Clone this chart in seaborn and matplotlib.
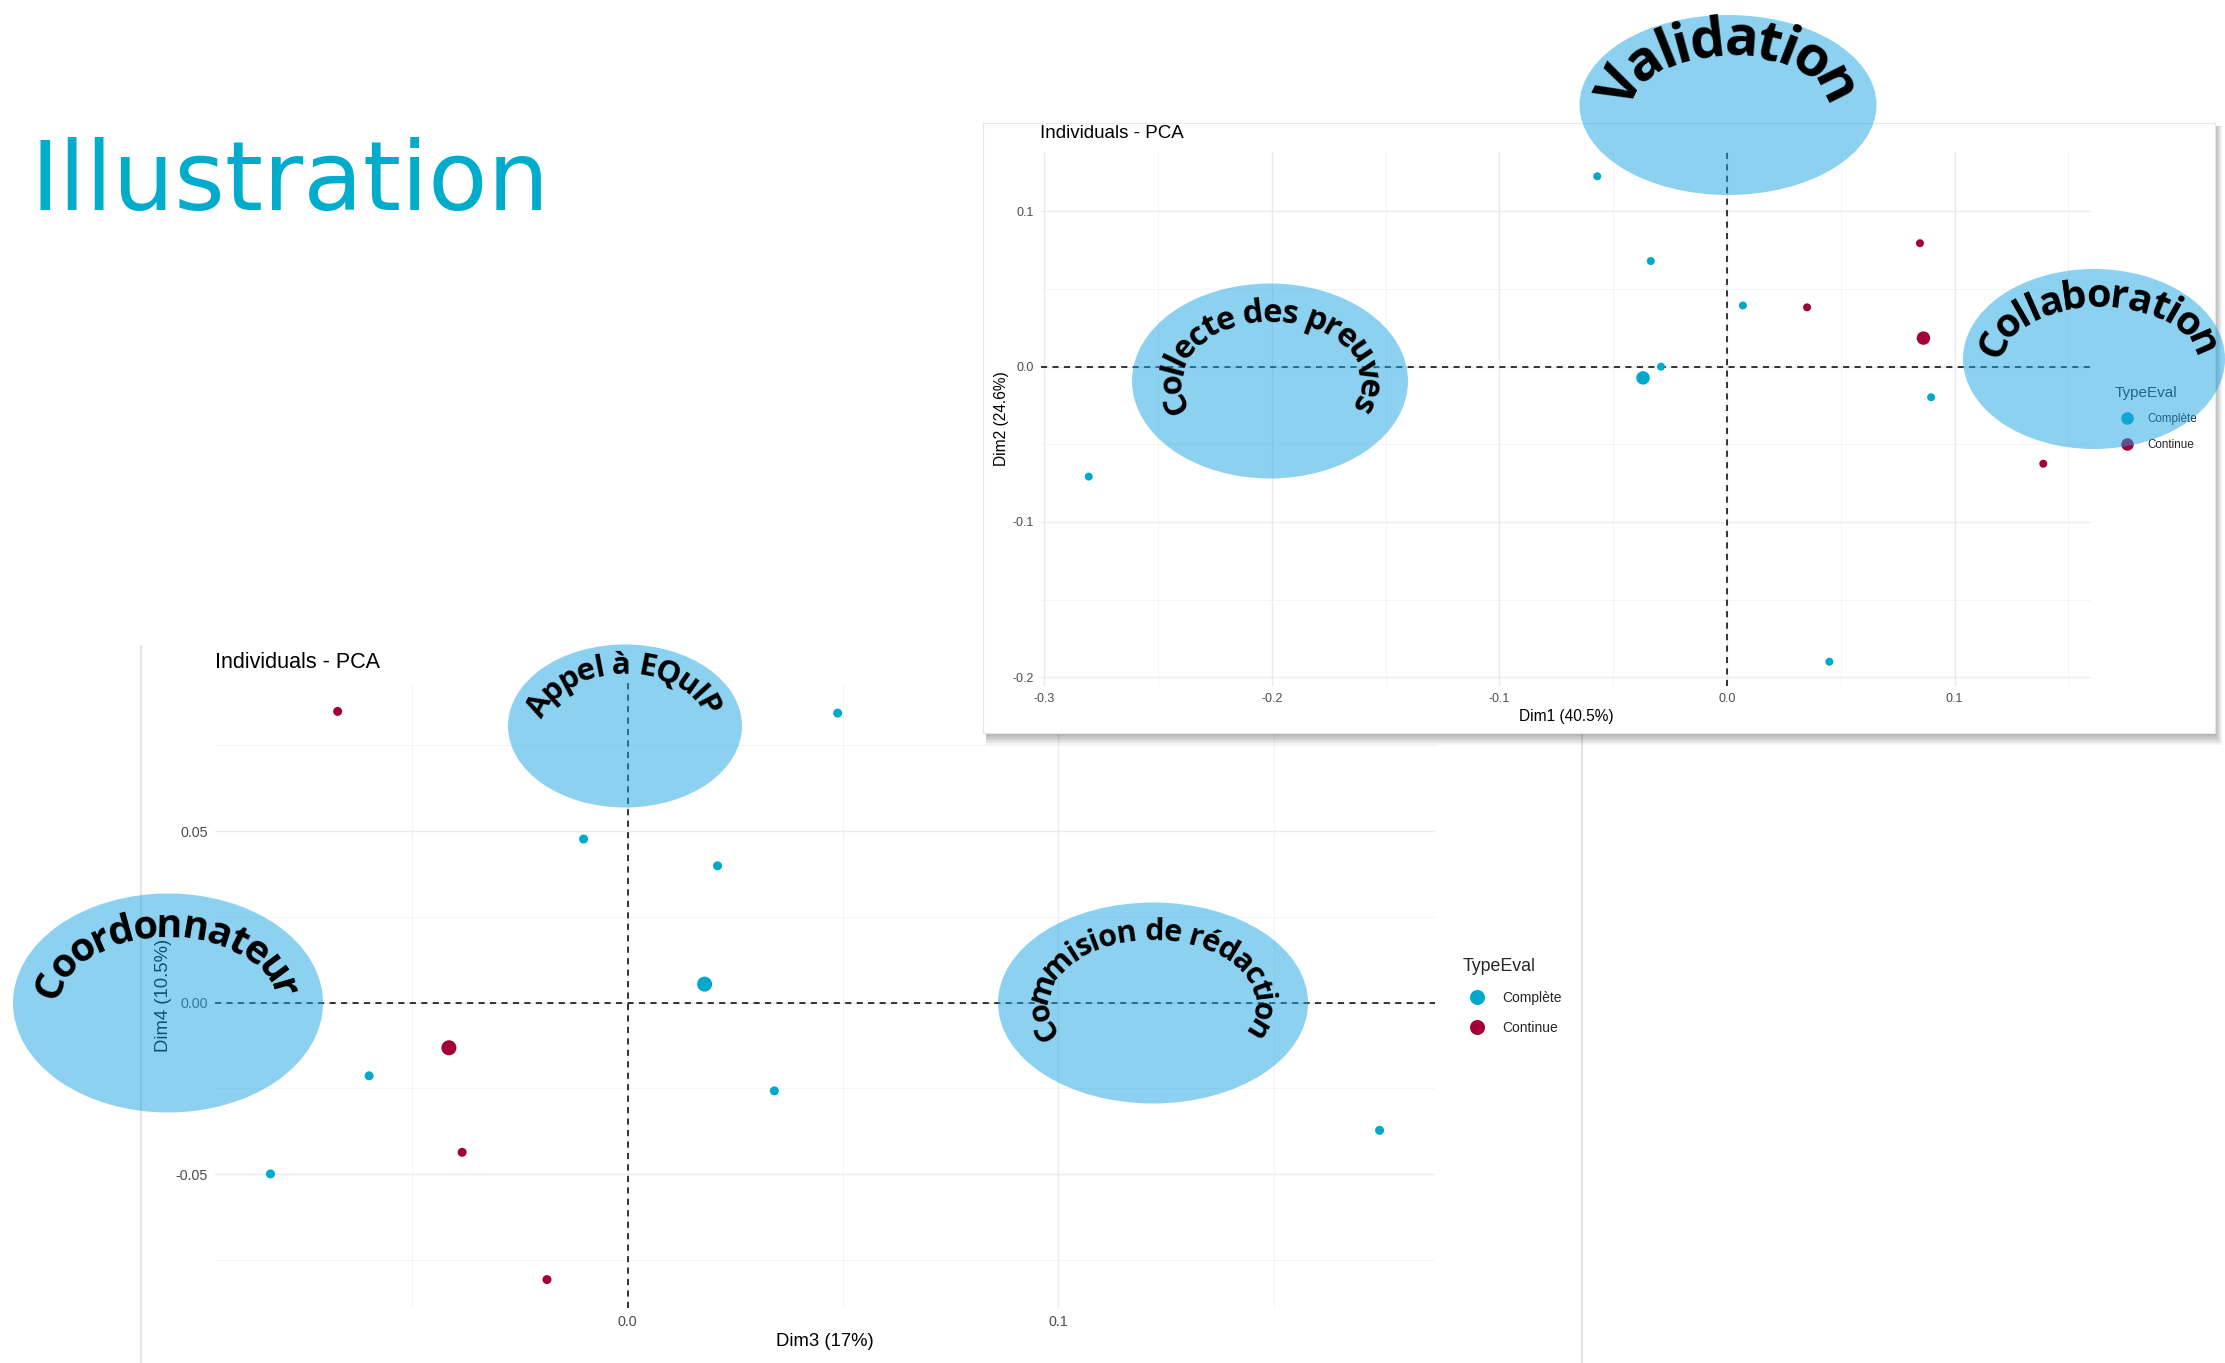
import numpy as np
import pandas as pd
import matplotlib
matplotlib.use("Agg")
import matplotlib.pyplot as plt
import seaborn as sns
from matplotlib.patches import Ellipse, Rectangle
from matplotlib.lines import Line2D
from matplotlib.ticker import FixedLocator
from matplotlib.font_manager import FontProperties, findfont, get_font

# individuals on Dim1 / Dim2 (upper plot)
dim12_type = ["Complète", "Complète", "Complète", "Complète", "Complète", "Complète", "Complète",
              "Continue", "Continue", "Continue"]
dim1 = [-0.057, -0.0335, 0.007, -0.029, -0.2805, 0.0897, 0.045, 0.0848, 0.0352, 0.139]
dim2 = [0.1226, 0.068, 0.0394, 0.0, -0.0708, -0.0197, -0.190, 0.0795, 0.0382, -0.0625]

# individuals on Dim3 / Dim4 (lower plot)
dim34_type = ["Complète", "Complète", "Complète", "Complète", "Complète", "Complète", "Complète",
              "Continue", "Continue", "Continue"]
dim3 = [0.0488, -0.0102, 0.0209, -0.060, 0.0341, 0.1746, -0.0829, -0.0673, -0.0384, -0.0187]
dim4 = [0.0844, 0.0477, 0.0399, -0.0213, -0.0257, -0.0372, -0.0499, 0.0849, -0.0436, -0.0807]

groups = ["Complète", "Continue"]
palette = {"Complète": "#00A9CB", "Continue": "#A3003A"}

# bubbles drawn over the slide: label, ellipse centre/size, text centre, text baseline radii, font size
bubbles = [
    ("Validation", (1728, 105), (297, 180), (1728, 105), (95, 50), 40),
    ("Collecte des preuves", (1270, 381), (276, 195), (1270, 381), (89, 59), 23.5),
    ("Collaboration", (2094, 359), (262, 180), (2098, 359), (96, 52), 28.5),
    ("Appel à EQuIP", (625, 726), (234, 163), (623, 726), (80, 52), 22.5),
    ("Coordonnateur", (168, 1003), (310, 219), (166, 1003), (107, 66), 28.5),
    ("Commision de rédaction", (1153, 1003), (310, 201), (1151, 1003), (103, 63), 22),
]

W, H, DPI = 2225, 1363, 100

sns.set_style("white")
plt.rcParams["font.family"] = ["Liberation Sans", "DejaVu Sans"]
plt.rcParams["axes.unicode_minus"] = False

fig = plt.figure(figsize=(W / DPI, H / DPI), dpi=DPI)


def fx(x):
    return x / W


def fy(y):
    return 1 - y / H


def axes_px(left, top, right, bottom, z):
    return fig.add_axes([fx(left), fy(bottom), (right - left) / W, (bottom - top) / H], zorder=z)


def expand(v):
    lo, hi = min(v), max(v)
    pad = (hi - lo) * 0.05
    return lo - pad, hi + pad


def pca_panel(ax, x, y, types, xticks, yticks, xminor, yminor, xfmt, yfmt,
              xlabel, ylabel, title, title_xy, sizes, legend_xy, legend_sizes):
    tick_size, label_size, title_size, small_s, big_s = sizes
    df = pd.DataFrame({"x": x, "y": y, "TypeEval": types})
    means = df.groupby("TypeEval", as_index=False)[["x", "y"]].mean()

    ax.set_facecolor("none")
    for sp in ax.spines.values():
        sp.set_visible(False)

    ax.axhline(0, color="black", lw=1.1, ls=(0, (4, 3.5)), zorder=1.5)
    ax.axvline(0, color="black", lw=1.1, ls=(0, (4, 3.5)), zorder=1.5)

    sns.scatterplot(data=df, x="x", y="y", hue="TypeEval", hue_order=groups, palette=palette,
                    s=small_s, linewidth=0, legend=False, ax=ax, zorder=3)
    sns.scatterplot(data=means, x="x", y="y", hue="TypeEval", hue_order=groups, palette=palette,
                    s=big_s, linewidth=0, legend=False, ax=ax, zorder=3)

    ax.set_xlim(expand(x))
    ax.set_ylim(expand(y))
    ax.set_xticks(xticks)
    ax.set_xticklabels([xfmt.format(v) for v in xticks])
    ax.set_yticks(yticks)
    ax.set_yticklabels([yfmt.format(v) for v in yticks])
    ax.xaxis.set_minor_locator(FixedLocator(xminor))
    ax.yaxis.set_minor_locator(FixedLocator(yminor))
    ax.set_axisbelow(True)
    ax.grid(True, which="major", color="#EBEBEB", lw=1.0)
    ax.grid(True, which="minor", color="#F3F3F3", lw=0.6)
    ax.tick_params(which="major", length=3, width=0.8, color="#333333",
                   labelcolor="#4D4D4D", labelsize=tick_size, pad=2)
    ax.tick_params(which="minor", length=0)
    ax.set_xlabel(xlabel, fontsize=label_size, color="black", labelpad=3)
    ax.set_ylabel(ylabel, fontsize=label_size, color="black", labelpad=3)

    ax.text(fx(title_xy[0]), fy(title_xy[1]), title, transform=fig.transFigure,
            fontsize=title_size, ha="left", va="center", color="black")

    ms, lab_size, leg_title_size, spacing, textpad = legend_sizes
    handles = [Line2D([], [], ls="", marker="o", ms=ms, markeredgewidth=0, color=palette[g]) for g in groups]
    ax.legend(handles, groups, title="TypeEval", loc="upper left",
              bbox_to_anchor=(fx(legend_xy[0]), fy(legend_xy[1])), bbox_transform=fig.transFigure,
              frameon=False, borderpad=0, borderaxespad=0, fontsize=lab_size,
              title_fontsize=leg_title_size, handlelength=2.0, handletextpad=textpad,
              labelspacing=spacing, alignment="left")


# lower card (behind)
for xl in (141, 1582):
    fig.add_artist(Line2D([fx(xl), fx(xl)], [fy(646), 0], transform=fig.transFigure,
                          color="#E4E4E4", lw=1.5, zorder=0.5))

ax_low = axes_px(215, 683, 1435, 1308, 1)
pca_panel(ax_low, dim3, dim4, dim34_type,
          [0.0, 0.1], [-0.05, 0.0, 0.05], [-0.05, 0.05, 0.15], [-0.075, -0.025, 0.025, 0.075],
          "{:.1f}", "{:.2f}", "Dim3 (17%)", "Dim4 (10.5%)", "Individuals - PCA", (215, 663),
          (10.3, 13.3, 15.5, 42, 117), (1463, 958), (10.8, 10, 12.8, 1.15, 0.8))

# upper card with its drop shadow
for k in range(8):
    fig.add_artist(Rectangle((fx(986), fy(734 + k * 1.5)), (2215 + k - 986) / W, (734 + k * 1.5 - 126) / H,
                             transform=fig.transFigure, facecolor="black", alpha=0.045,
                             edgecolor="none", zorder=1.9))
fig.add_artist(Rectangle((fx(983), fy(733)), (2215 - 983) / W, (733 - 123) / H, transform=fig.transFigure,
                         facecolor="white", edgecolor="#E6E6E6", lw=0.8, zorder=2))

ax_up = axes_px(1041, 152, 2091, 686, 3)
pca_panel(ax_up, dim1, dim2, dim12_type,
          [-0.3, -0.2, -0.1, 0.0, 0.1], [-0.2, -0.1, 0.0, 0.1], [-0.25, -0.15, -0.05, 0.05, 0.15],
          [-0.15, -0.05, 0.05], "{:.1f}", "{:.1f}", "Dim1 (40.5%)", "Dim2 (24.6%)", "Individuals - PCA",
          (1040, 134), (9, 11.2, 13.5, 33, 94), (2115, 386), (9, 8.4, 11, 1.15, 0.77))

# slide title
fig.text(fx(31), fy(210), "Illustration", fontsize=70, color="#00ACCC",
         family="DejaVu Sans", ha="left", va="baseline", zorder=5)


def arc_text(label, cx, cy, a, b, size):
    prop = FontProperties(family="Open Sans", weight="bold", size=size)
    font = get_font(findfont(prop))
    font.set_size(size, DPI)
    adv = np.array([font.load_char(ord(c)).linearHoriAdvance / 65536 for c in label])
    em = size * DPI / 72
    off = 0.32 * em
    am, bm = a + off, b + off
    yc = H - cy
    tt = np.linspace(1.5 * np.pi, -0.5 * np.pi, 6001)
    px = cx + am * np.cos(tt)
    py = yc + bm * np.sin(tt)
    s = np.concatenate([[0], np.cumsum(np.hypot(np.diff(px), np.diff(py)))])
    s -= s[3000]
    centres = np.cumsum(adv) - adv / 2 - adv.sum() / 2
    for ch, u in zip(label, centres):
        t = np.interp(u, s, tt)
        ang = np.degrees(np.arctan2(-bm * np.cos(t), am * np.sin(t)))
        nx, ny = bm * np.cos(t), am * np.sin(t)
        nn = np.hypot(nx, ny)
        x = cx + am * np.cos(t) - off * nx / nn
        y = yc + bm * np.sin(t) - off * ny / nn
        fig.text(x / W, y / H, ch, fontproperties=prop, rotation=ang, rotation_mode="anchor",
                 ha="center", va="baseline", color="black", zorder=5)


for label, (ex, ey), (ew, eh), (tx, ty), (ta, tb), fsize in bubbles:
    fig.add_artist(Ellipse((fx(ex), fy(ey)), ew / W, eh / H, transform=fig.transFigure,
                           facecolor="#1BA5E1", alpha=0.5, edgecolor="none", zorder=4))
    arc_text(label, tx, ty, ta, tb, fsize)

fig.savefig("out.png", dpi=DPI)
